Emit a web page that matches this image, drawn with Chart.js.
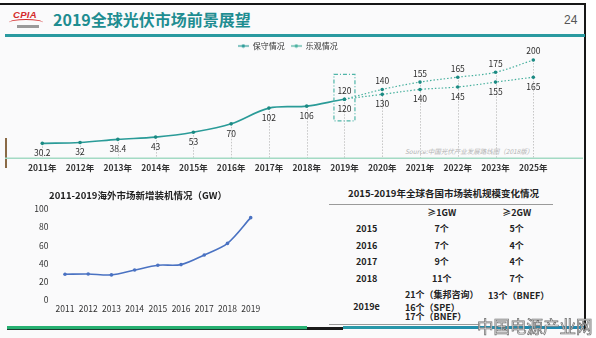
<!DOCTYPE html>
<html><head><meta charset="utf-8">
<script src="https://cdn.jsdelivr.net/npm/chart.js@4.4.0/dist/chart.umd.min.js"></script>
<style>
html,body{margin:0;padding:0;}
body{width:596px;height:338px;position:relative;overflow:hidden;background:#ffffff;font-family:"Noto Sans CJK SC","Noto Sans",sans-serif;}
.abs{position:absolute;white-space:nowrap;}
#slide{position:absolute;left:0;top:3px;width:585px;height:335px;background:#fafafb;}
.cell{position:absolute;white-space:nowrap;font-weight:bold;font-size:9px;color:#222;line-height:10px;}
.c{transform:translate(-50%,-50%);}
.l{transform:translate(0,-50%);}
</style></head><body>
<div id="slide"></div>
<div class="abs" style="left:0;top:3px;width:585px;height:2px;background:#161616"></div>
<div class="abs" style="left:584px;top:3px;width:1.5px;height:327px;background:#161616"></div>
<!-- logo -->
<div class="abs" style="left:13px;top:9px;font:italic bold 9.5px 'Liberation Sans';color:#d42a2a;letter-spacing:0.3px">CPIA</div>
<div class="abs" style="left:9px;top:19px;width:34px;height:6px;border-top:1.5px solid #d42a2a;border-radius:50% 50% 0 0"></div>
<div class="abs" style="left:17px;top:25px;width:22px;height:2.5px;background:#9a9a9a"></div>
<div class="abs" style="left:53px;top:8px;font-weight:bold;font-size:16px;color:#1e8d91;line-height:22px">2019全球光伏市场前景展望</div>
<div class="abs" style="left:564px;top:13px;font:12px 'Liberation Sans';color:#555">24</div>
<div class="abs" style="left:5px;top:34px;width:580px;height:2.5px;background:#2a9aa0"></div>
<div class="abs" style="left:5px;top:138px;width:1.7px;height:30px;background:#8a6a46"></div>
<div class="abs" style="left:405px;top:146px;font-style:italic;font-size:6.5px;color:#b3b3b3">Source:中国光伏产业发展路线图（2018版）</div>

<canvas id="top" class="abs" width="596" height="143" style="left:0;top:36px;width:596px;height:143px"></canvas>
<canvas id="bottom" class="abs" width="276" height="135" style="left:0;top:185px;width:276px;height:135px"></canvas>

<div id="table"></div>
<div class="abs" style="left:329px;top:203.5px;width:224px;height:1.5px;background:#9a9a9a"></div>
<div class="abs" style="left:329px;top:323.5px;width:150px;height:1.5px;background:#9a9a9a"></div>

<div class="abs" style="left:7px;top:326px;width:300px;height:3px;background:#27b172"></div>
<div class="abs" style="left:7px;top:329px;width:300px;height:1px;background:#1d3b30"></div>
<div class="abs" style="left:307px;top:327px;width:36px;height:3px;background:#1a1a1a"></div>
<div class="abs" style="left:343px;top:326px;width:241px;height:3px;background:linear-gradient(90deg,#2a9aa8,#1f86b0)"></div>
<div class="abs" style="left:477px;top:315px;font-size:16.5px;color:#f2f2f2;-webkit-text-stroke:0.7px #6d6d6d;line-height:22px">中国电源产业网</div>

<script>
// ---------- data ----------
const years = ['2011年','2012年','2013年','2014年','2015年','2016年','2017年','2018年','2019年','2020年','2021年','2022年','2023年','2025年'];
const seriesNames = ['保守情况','乐观情况'];
const conservative = [30.2,32,38.4,43,53,70,102,106,120,130,140,145,155,165];
const optimistic = [null,null,null,null,null,null,null,null,120,140,155,165,175,200];
const forecastStart = '2019年';

const overseasTitle = '2011-2019海外市场新增装机情况（GW）';
const overseasYears = ['2011','2012','2013','2014','2015','2016','2017','2018','2019'];
const overseasGW = [28.3,28.6,27.6,32.9,38.2,38.9,49.5,62.2,90.5];

const tableTitle = '2015-2019年全球各国市场装机规模变化情况';
const tableHead = ['≥1GW','≥2GW'];
const tableYears = ['2015','2016','2017','2018','2019e'];
const ge1GW = [['7个'],['7个'],['9个'],['11个'],['21个（集邦咨询）','16个（SPE）','17个（BNEF）']];
const ge2GW = [['5个'],['4个'],['4个'],['7个'],['13个（BNEF）']];

// ---------- table ----------
(function(){
  const t = document.getElementById('table');
  const add = (txt, x, y, cls, extra) => {
    const d = document.createElement('div');
    d.className = 'cell ' + cls; d.textContent = txt;
    d.style.left = x + 'px'; d.style.top = y + 'px';
    if (extra) d.style.cssText += extra;
    t.appendChild(d);
  };
  add(tableTitle, 443.5, 193, 'c', 'font-size:9.5px');
  add(tableHead[0], 441.7, 213, 'c');
  add(tableHead[1], 516.7, 213, 'c');
  const rowY = [229, 245.5, 262, 278.5];
  tableYears.forEach((yr, i) => {
    if (i < 4) {
      add(yr, 366.7, rowY[i], 'c');
      add(ge1GW[i][0], 441.7, rowY[i], 'c');
      add(ge2GW[i][0], 516.7, rowY[i], 'c');
    } else {
      add(yr, 366.5, 306.5, 'c');
      const ly = [295, 307.5, 317];
      ge1GW[i].forEach((s, k) => add(s, 405, ly[k], 'l'));
      add(ge2GW[i][0], 488, 295.5, 'l');
    }
  });
})();

// ---------- top chart ----------
const FONT = '"Noto Sans CJK SC", "Noto Sans", sans-serif';
const consColor = '#2a9b98', optColor = '#47b09e', dotColor = '#1b8a83';
function legendMarker(color){
  const c = document.createElement('canvas'); c.width = 11; c.height = 5;
  const g = c.getContext('2d');
  g.strokeStyle = color; g.lineWidth = 1.2;
  g.beginPath(); g.moveTo(0, 2.5); g.lineTo(11, 2.5); g.stroke();
  g.fillStyle = color; g.beginPath(); g.arc(5.5, 2.5, 1.7, 0, Math.PI * 2); g.fill();
  return c;
}
const markers = [legendMarker(consColor), legendMarker(optColor)];
const fIdx = years.indexOf(forecastStart);

const topDeco = {
  id: 'topDeco',
  beforeDatasetsDraw(chart){
    const {ctx, scales:{x, y}} = chart;
    const y0 = y.getPixelForValue(0);
    ctx.save();
    ctx.strokeStyle = '#c6c6c6'; ctx.lineWidth = 1; ctx.setLineDash([1.5, 1.5]);
    years.forEach((_, i) => {
      const vals = [conservative[i], optimistic[i]].filter(v => v != null);
      const top = Math.min(...vals.map(v => y.getPixelForValue(v)));
      const px = Math.round(x.getPixelForValue(i)) + 0.5;
      ctx.beginPath(); ctx.moveTo(px, top); ctx.lineTo(px, y0); ctx.stroke();
    });
    ctx.setLineDash([]); ctx.strokeStyle = '#a3dac4'; ctx.lineWidth = 1.5;
    ctx.beginPath(); ctx.moveTo(5, y0); ctx.lineTo(chart.width - 13, y0); ctx.stroke();
    ctx.restore();
  },
  afterDatasetsDraw(chart){
    const {ctx, scales:{x, y}} = chart;
    ctx.save();
    ctx.font = '8.5px ' + FONT; ctx.fillStyle = '#2e2e2e'; ctx.textAlign = 'center'; ctx.textBaseline = 'middle';
    conservative.forEach((v, i) => { if (v == null) return;
      ctx.fillText(String(v), x.getPixelForValue(i), y.getPixelForValue(v) + 9.5); });
    optimistic.forEach((v, i) => { if (v == null) return;
      ctx.fillText(String(v), x.getPixelForValue(i), y.getPixelForValue(v) - 8.8); });
    const px = x.getPixelForValue(fIdx);
    const pTop = y.getPixelForValue(optimistic[fIdx]) - 25;
    const pBot = y.getPixelForValue(conservative[fIdx]) + 21.6;
    ctx.strokeStyle = '#4fb5a8'; ctx.lineWidth = 1.2; ctx.setLineDash([4, 2, 1, 2]);
    ctx.strokeRect(px - 10.5, pTop, 21, pBot - pTop);
    ctx.restore();
  }
};

new Chart(document.getElementById('top'), {
  type: 'line',
  data: {
    labels: years,
    datasets: [
      { label: seriesNames[0], data: conservative, borderColor: consColor, borderWidth: 1.6,
        pointRadius: 1.8, pointBorderWidth: 0, pointBackgroundColor: dotColor, tension: 0.35, clip: false,
        segment: {
          borderDash: c => c.p0DataIndex >= fIdx ? [1.5, 2] : undefined,
          borderColor: c => c.p0DataIndex >= fIdx ? optColor : undefined,
          borderWidth: c => c.p0DataIndex >= fIdx ? 1.2 : undefined
        } },
      { label: seriesNames[1], data: optimistic, borderColor: optColor, borderWidth: 1.2, borderDash: [1.5, 2],
        pointRadius: 1.8, pointBorderWidth: 0, pointBackgroundColor: dotColor, tension: 0.35, clip: false }
    ]
  },
  options: {
    responsive: false, animation: false, devicePixelRatio: 1,
    layout: { padding: { left: 42.3, right: 62.7, top: 0, bottom: 2 } },
    plugins: {
      legend: { display: true, position: 'top',
        labels: { usePointStyle: true, pointStyleWidth: 11, padding: 6, color: '#333',
          font: { family: FONT, size: 8 },
          generateLabels(chart){
            const items = Chart.defaults.plugins.legend.labels.generateLabels(chart);
            items.forEach((it, k) => { it.pointStyle = markers[k]; });
            return items;
          } } },
      tooltip: { enabled: false }
    },
    scales: {
      x: { offset: false, grid: { display: false, drawTicks: false }, border: { display: false },
        ticks: { color: '#333', padding: 4.3, font: { family: FONT, size: 8.5, weight: 'bold' }, autoSkip: false, maxRotation: 0 } },
      y: { display: false, min: 0, max: 200 }
    }
  },
  plugins: [topDeco]
});

// ---------- bottom-left chart ----------
new Chart(document.getElementById('bottom'), {
  type: 'line',
  data: { labels: overseasYears,
    datasets: [{ data: overseasGW, borderColor: '#4a72c2', borderWidth: 1.6, pointRadius: 1.8,
      pointBorderWidth: 0, pointBackgroundColor: '#4a72c2', tension: 0.3 }] },
  options: {
    responsive: false, animation: false, devicePixelRatio: 1,
    layout: { padding: { left: 13.7, right: 13.7, top: 0, bottom: 3.2 } },
    plugins: {
      legend: { display: false }, tooltip: { enabled: false },
      title: { display: true, text: overseasTitle, color: '#222',
        font: { family: FONT, size: 9.5, weight: 'bold' }, padding: { top: 5, bottom: 7.6 } }
    },
    scales: {
      x: { offset: true, grid: { display: false, drawTicks: false }, border: { display: false },
        ticks: { color: '#333', padding: 3.3, font: { family: FONT, size: 8.5 }, autoSkip: false, maxRotation: 0 } },
      y: { min: 0, max: 100, grid: { display: false, drawTicks: false }, border: { display: false },
        afterFit(s){ s.width = 39.7; },
        ticks: { stepSize: 10, color: '#333', padding: 5, font: { family: FONT, size: 8.5 } } }
    }
  }
});
</script>
</body></html>
